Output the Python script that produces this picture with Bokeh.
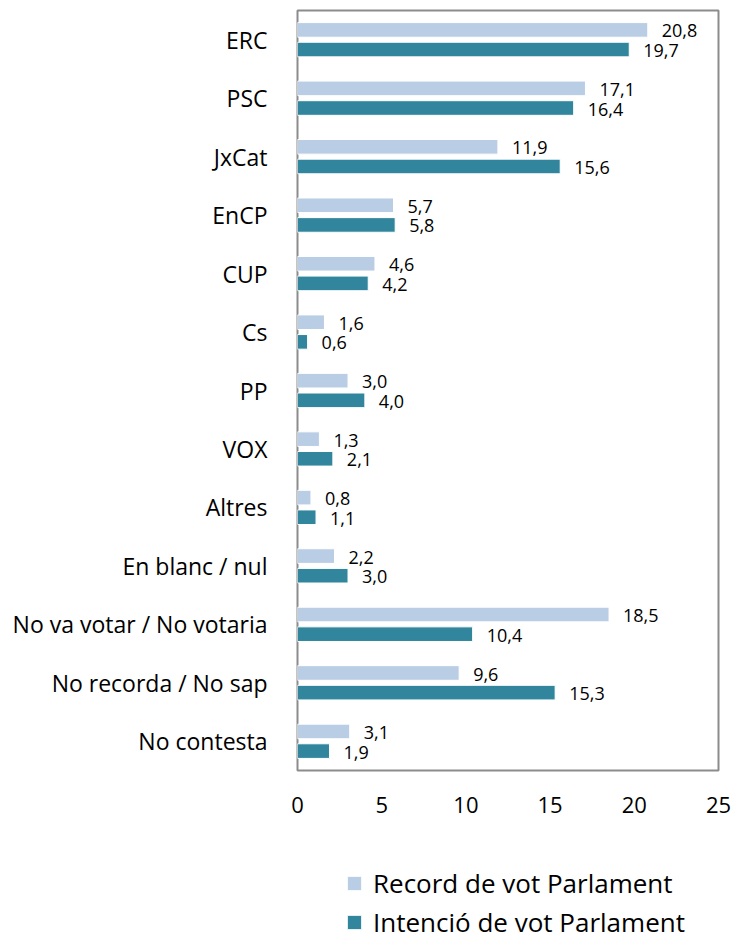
from bokeh.plotting import figure
from bokeh.layouts import column
from bokeh.models import ColumnDataSource, FactorRange, Legend, LegendItem, FixedTicker, Range1d
from bokeh.transform import dodge
from bokeh.core.properties import value
from bokeh.embed import file_html
from bokeh.resources import INLINE

categories = ["ERC", "PSC", "JxCat", "EnCP", "CUP", "Cs", "PP", "VOX", "Altres",
              "En blanc / nul", "No va votar / No votaria", "No recorda / No sap", "No contesta"]
record = [20.8, 17.1, 11.9, 5.7, 4.6, 1.6, 3.0, 1.3, 0.8, 2.2, 18.5, 9.6, 3.1]
intencio = [19.7, 16.4, 15.6, 5.8, 4.2, 0.6, 4.0, 2.1, 1.1, 3.0, 10.4, 15.3, 1.9]
series_names = ["Record de vot Parlament", "Intenció de vot Parlament"]
x_ticks = [0, 5, 10, 15, 20, 25]

FONT = "Open Sans"
LIGHT = "#B9CDE5"
DARK = "#31859C"

src = ColumnDataSource(dict(
    cat=categories,
    rec=record,
    inten=intencio,
    rec_lbl=[f"{v:.1f}".replace(".", ",") for v in record],
    int_lbl=[f"{v:.1f}".replace(".", ",") for v in intencio],
))

p = figure(width=734, height=830, output_backend="svg", toolbar_location=None,
           y_range=FactorRange(factors=categories[::-1], range_padding=0),
           x_range=(0, 25),
           min_border_left=297, min_border_right=16, min_border_top=10, min_border_bottom=60)

r1 = p.hbar(y=dodge("cat", 0.168, range=p.y_range), right="rec", left=0, height=0.25,
            source=src, fill_color=LIGHT, line_color="white", line_width=1)
r2 = p.hbar(y=dodge("cat", -0.168, range=p.y_range), right="inten", left=0, height=0.25,
            source=src, fill_color=DARK, line_color="white", line_width=1)

p.text(x="rec", y=dodge("cat", 0.15, range=p.y_range), text="rec_lbl", source=src,
       x_offset=14, text_baseline="middle", text_align="left",
       text_font=value(FONT), text_font_size="18px", text_color="black")
p.text(x="inten", y=dodge("cat", -0.185, range=p.y_range), text="int_lbl", source=src,
       x_offset=14, text_baseline="middle", text_align="left",
       text_font=value(FONT), text_font_size="18px", text_color="black")

p.xgrid.visible = False
p.ygrid.visible = False
p.outline_line_color = "#8c8c8c"
p.outline_line_width = 2

p.xaxis.ticker = FixedTicker(ticks=x_ticks)
for ax in (p.xaxis, p.yaxis):
    ax.axis_line_color = None
    ax.major_tick_line_color = None
    ax.minor_tick_line_color = None
    ax.major_label_text_font = FONT
    ax.major_label_text_color = "black"
p.xaxis.major_label_text_font_size = "22px"
p.yaxis.major_label_text_font_size = "23px"
p.xaxis.major_label_standoff = 20
p.yaxis.major_label_standoff = 24

# legend panel (separate figure below the chart; its frame aligns with the chart's frame)
p2 = figure(width=734, height=111, output_backend="svg", toolbar_location=None,
            x_range=Range1d(0, 25), y_range=Range1d(0, 1),
            x_axis_location=None, y_axis_location=None,
            min_border_left=0, min_border_right=0, min_border_top=0, min_border_bottom=0)
p2.outline_line_color = None
p2.xgrid.visible = False
p2.ygrid.visible = False
# legend-only renderers, placed far outside the visible range
l1 = p2.hbar(y=-50, right="rec", left=0, height=0.25, source=src,
             fill_color=LIGHT, line_color="white", line_width=1)
l2 = p2.hbar(y=-50, right="inten", left=0, height=0.25, source=src,
             fill_color=DARK, line_color="white", line_width=1)

legend = Legend(items=[LegendItem(label=series_names[0], renderers=[l1]),
                       LegendItem(label=series_names[1], renderers=[l2])],
                location=(48, 1), orientation="vertical",
                padding=0, margin=0, spacing=3,
                glyph_width=18, glyph_height=18, label_height=18, label_standoff=10,
                label_text_font=FONT, label_text_font_size="26px",
                label_text_baseline="middle", label_text_color="black",
                border_line_color=None, background_fill_alpha=0)
p2.add_layout(legend)

open("out.html", "w").write(file_html(column(p, p2, spacing=0), INLINE))
